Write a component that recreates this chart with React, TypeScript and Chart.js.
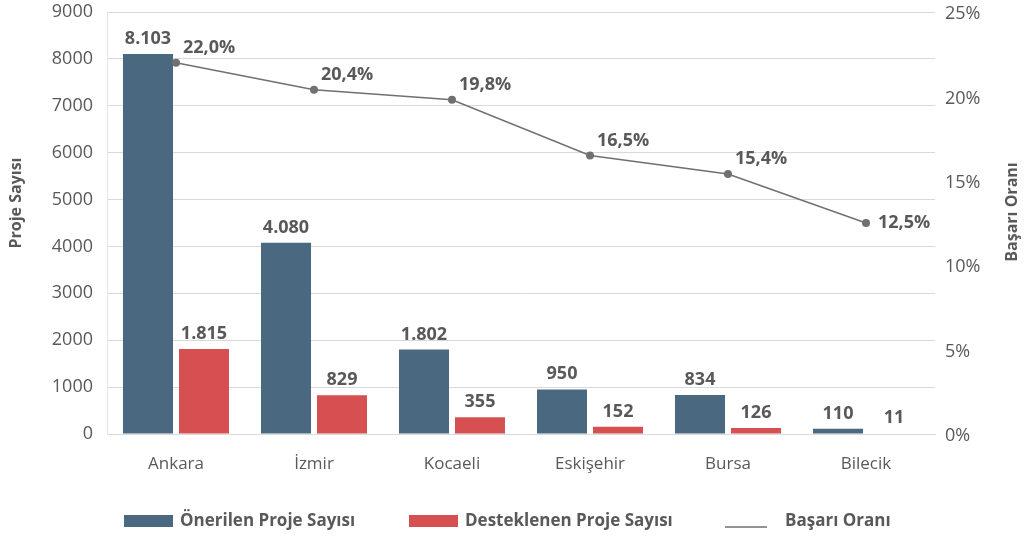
import React, { useEffect, useRef } from "react";
import { Chart, registerables } from "chart.js";

Chart.register(...registerables);

const categories = ["Ankara", "İzmir", "Kocaeli", "Eskişehir", "Bursa", "Bilecik"];
const proposed = [8103, 4080, 1802, 950, 834, 110];
const supported = [1815, 829, 355, 152, 126, 11];
const successRate = [22.0, 20.4, 19.8, 16.5, 15.4, 12.5];
const leftTicks = [0, 1000, 2000, 3000, 4000, 5000, 6000, 7000, 8000, 9000];
const rightTicks = [0, 5, 10, 15, 20, 25];

const BLUE = "#4a687f";
const RED = "#d64f51";
const GRAY = "#707070";
const TEXT = "#595959";
const FONT = "'Open Sans', sans-serif";

const fmtInt = (v: number) => String(v).replace(/\B(?=(\d{3})+(?!\d))/g, ".");
const fmtPct = (v: number) => v.toFixed(1).replace(".", ",") + "%";

const labelPlugin = {
  id: "labels",
  afterDatasetsDraw(chart: any) {
    const ctx = chart.ctx;
    ctx.save();
    ctx.fillStyle = TEXT;
    ctx.font = `bold 18px ${FONT}`;
    ctx.textAlign = "center";
    ctx.textBaseline = "alphabetic";
    [0, 1].forEach((di) => {
      const meta = chart.getDatasetMeta(di);
      const data = chart.data.datasets[di].data as number[];
      meta.data.forEach((el: any, i: number) => {
        ctx.fillText(fmtInt(data[i]), el.x, el.y - 10);
      });
    });
    const lm = chart.getDatasetMeta(2);
    const ld = chart.data.datasets[2].data as number[];
    ctx.textAlign = "left";
    ctx.textBaseline = "middle";
    lm.data.forEach((el: any, i: number) => {
      if (i === ld.length - 1) {
        ctx.fillText(fmtPct(ld[i]), el.x + 12, el.y);
      } else {
        ctx.fillText(fmtPct(ld[i]), el.x + 7, el.y - 15);
      }
    });
    ctx.restore();
  },
};

const titlesAndLegendPlugin = {
  id: "titlesLegend",
  afterDraw(chart: any) {
    const ctx = chart.ctx;
    ctx.save();
    // axis titles
    ctx.font = `bold 16px ${FONT}`;
    ctx.fillStyle = TEXT;
    ctx.textAlign = "center";
    ctx.textBaseline = "middle";
    ctx.save();
    ctx.translate(16, 203);
    ctx.rotate(-Math.PI / 2);
    ctx.fillText("Proje Sayısı", 0, 0);
    ctx.restore();
    ctx.save();
    ctx.translate(1012, 212);
    ctx.rotate(-Math.PI / 2);
    ctx.fillText("Başarı Oranı", 0, 0);
    ctx.restore();

    // legend
    ctx.font = `bold 17px ${FONT}`;
    ctx.textAlign = "left";
    const y = 521;
    ctx.fillStyle = BLUE;
    ctx.fillRect(124, y - 6, 49, 12);
    ctx.fillStyle = TEXT;
    ctx.fillText("Önerilen Proje Sayısı", 180, y);
    ctx.fillStyle = RED;
    ctx.fillRect(409, y - 6, 49, 12);
    ctx.fillStyle = TEXT;
    ctx.fillText("Desteklenen Proje Sayısı", 465, y);
    ctx.strokeStyle = GRAY;
    ctx.lineWidth = 1.5;
    ctx.beginPath();
    ctx.moveTo(725, y + 6);
    ctx.lineTo(767, y + 6);
    ctx.stroke();
    ctx.fillText("Başarı Oranı", 785, y);
    ctx.restore();
  },
};

export default function App() {
  const ref = useRef<HTMLCanvasElement>(null);
  useEffect(() => {
    document.body.style.margin = "0";
    const chart = new Chart(ref.current!, {
      type: "bar",
      data: {
        labels: categories,
        datasets: [
          {
            label: "Önerilen Proje Sayısı",
            data: proposed,
            backgroundColor: BLUE,
            yAxisID: "y",
            categoryPercentage: 0.8116,
            barPercentage: 0.893,
            order: 2,
          } as any,
          {
            label: "Desteklenen Proje Sayısı",
            data: supported,
            backgroundColor: RED,
            yAxisID: "y",
            categoryPercentage: 0.8116,
            barPercentage: 0.893,
            order: 2,
          } as any,
          {
            type: "line",
            label: "Başarı Oranı",
            data: successRate,
            borderColor: GRAY,
            backgroundColor: GRAY,
            borderWidth: 1.5,
            pointRadius: 4,
            pointBackgroundColor: GRAY,
            pointBorderWidth: 0,
            yAxisID: "y1",
            order: 1,
          } as any,
        ],
      },
      options: {
        animation: false,
        responsive: false,
        maintainAspectRatio: false,
        layout: { padding: { top: 12, bottom: 0, left: 0, right: 0 } },
        plugins: { legend: { display: false }, tooltip: { enabled: false } },
        scales: {
          x: {
            grid: { display: false },
            border: { color: "#d9d9d9", width: 1 },
            ticks: { color: TEXT, font: { family: FONT, size: 17 }, padding: 12 },
            afterFit(s: any) {
              s.height = 102;
              s.paddingLeft = 0;
              s.paddingRight = 0;
            },
          },
          y: {
            position: "left",
            min: 0,
            max: 9000,
            afterBuildTicks(s: any) {
              s.ticks = leftTicks.map((v) => ({ value: v }));
            },
            grid: { color: "#d9d9d9", lineWidth: 1, drawTicks: false },
            border: { display: true, color: "#e6e6e6" },
            ticks: {
              color: TEXT,
              font: { family: FONT, size: 18 },
              padding: 14,
              callback: (v: any) => String(v),
            },
            afterFit(s: any) {
              s.width = 107;
              s.paddingTop = 0;
              s.paddingBottom = 0;
            },
          },
          y1: {
            position: "right",
            min: 0,
            max: 25,
            afterBuildTicks(s: any) {
              s.ticks = rightTicks.map((v) => ({ value: v }));
            },
            grid: { display: false },
            border: { display: false },
            ticks: {
              color: TEXT,
              font: { family: FONT, size: 18 },
              padding: 2,
              labelOffset: 2,
              callback: (v: any) => v + "%",
            },
            afterFit(s: any) {
              s.width = 90;
              s.paddingTop = 0;
              s.paddingBottom = 0;
            },
          },
        },
      } as any,
      plugins: [labelPlugin, titlesAndLegendPlugin],
    });
    return () => chart.destroy();
  }, []);
  return (
    <div style={{ width: 1025, height: 536 }}>
      <canvas ref={ref} width={1025} height={536} style={{ width: 1025, height: 536 }} />
    </div>
  );
}
